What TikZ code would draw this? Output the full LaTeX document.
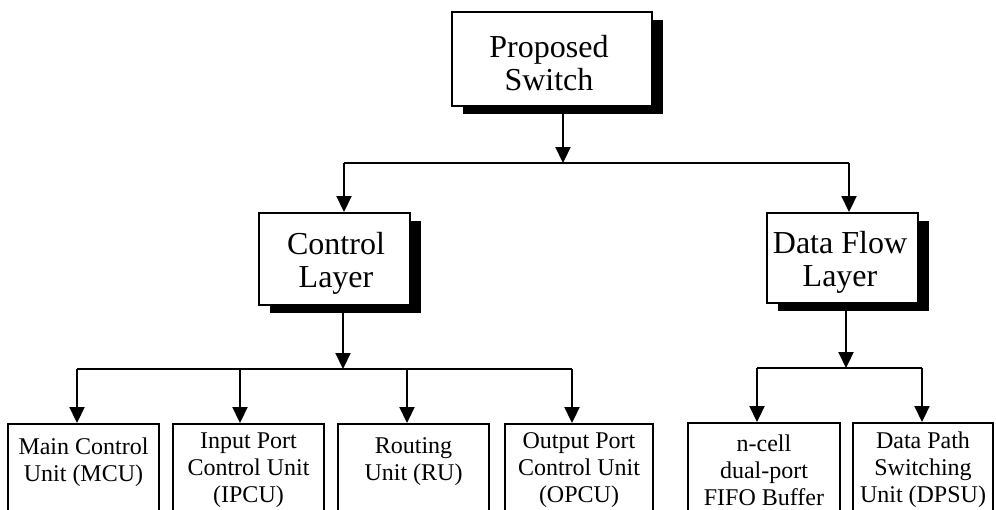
\documentclass[tikz,border=0pt]{standalone}
\usepackage{fontspec}
\setmainfont{Liberation Serif}
\usetikzlibrary{arrows.meta,shadows}
\begin{document}
\begin{tikzpicture}[x=1pt,y=-1pt,
  big/.style={draw,line width=2pt,fill=white,inner sep=0pt,
    drop shadow={shadow xshift=11pt,shadow yshift=-8pt,fill=black,opacity=1}},
  bigtext/.style={align=center,font=\fontsize{32}{33}\selectfont,inner sep=0pt},
  unit/.style={draw,line width=1.8pt,anchor=north,minimum height=120pt,inner sep=0pt},
  utext/.style={align=center,font=\fontsize{24}{27}\selectfont,inner sep=0pt},
  link/.style={line width=2.2pt},
  arr/.style={line width=2.2pt,-{Triangle[width=15pt,length=16pt]}}]
\clip (0,0) rectangle (996,509);
\fill[white] (0,0) rectangle (996,509);
% main boxes
\node[big,minimum width=200pt,minimum height=94pt] (ps) at (552,59) {};
\node[bigtext] (psT) at (549,63) {Proposed\\Switch};
\node[big,minimum width=151pt,minimum height=92pt] (cl) at (334.5,259) {};
\node[bigtext] (clT) at (336,263) {Control\\Layer};
\node[big,minimum width=151pt,minimum height=90pt] (df) at (842.5,258) {};
\node[bigtext] (dfT) at (840,262) {Data Flow\\Layer};
% unit boxes
\node[unit,minimum width=151pt] (mcu) at (83.5,423) {};
\node[utext] (mcuT) at (83.5,462) {Main Control\\Unit (MCU)};
\node[unit,minimum width=151pt] (ipcu) at (248.5,423) {};
\node[utext] (ipcuT) at (248.5,470) {Input Port\\Control Unit\\(IPCU)};
\node[unit,minimum width=151pt] (ru) at (413.5,423) {};
\node[utext] (ruT) at (413.5,462) {Routing\\Unit (RU)};
\node[unit,minimum width=148pt] (opcu) at (579,423) {};
\node[utext] (opcuT) at (579,470) {Output Port\\Control Unit\\(OPCU)};
\node[unit,minimum width=152pt] (fifo) at (764,422) {};
\node[utext] (fifoT) at (764,470) {n-cell\\dual-port\\FIFO Buffer};
\node[unit,minimum width=140pt] (dpsu) at (923,422) {};
\node[utext] (dpsuT) at (923,470) {Data Path\\Switching\\Unit (DPSU)};
% top level connectors
\coordinate (j0) at (563,163);
\coordinate (jl) at (344,163);
\coordinate (jr) at (849,163);
\draw[arr] (ps.south -| j0) -- (j0);
\draw[link] (jl) -- (jr);
\draw[arr] (jl) -- (jl |- cl.north);
\draw[arr] (jr) -- (jr |- df.north);
% control layer connectors
\coordinate (k0) at (343,369);
\coordinate (k1) at (77,369);
\coordinate (k2) at (240,369);
\coordinate (k3) at (407,369);
\coordinate (k4) at (572,369);
\draw[arr] (cl.south -| k0) -- (k0);
\draw[link] (k1) -- (k4);
\draw[arr] (k1) -- (k1 |- mcu.north);
\draw[arr] (k2) -- (k2 |- ipcu.north);
\draw[arr] (k3) -- (k3 |- ru.north);
\draw[arr] (k4) -- (k4 |- opcu.north);
% data flow connectors
\coordinate (m0) at (846,368);
\coordinate (m1) at (757,368);
\coordinate (m2) at (922,368);
\draw[arr] (df.south -| m0) -- (m0);
\draw[link] (m1) -- (m2);
\draw[arr] (m1) -- (m1 |- fifo.north);
\draw[arr] (m2) -- (m2 |- dpsu.north);
\end{tikzpicture}
\end{document}
